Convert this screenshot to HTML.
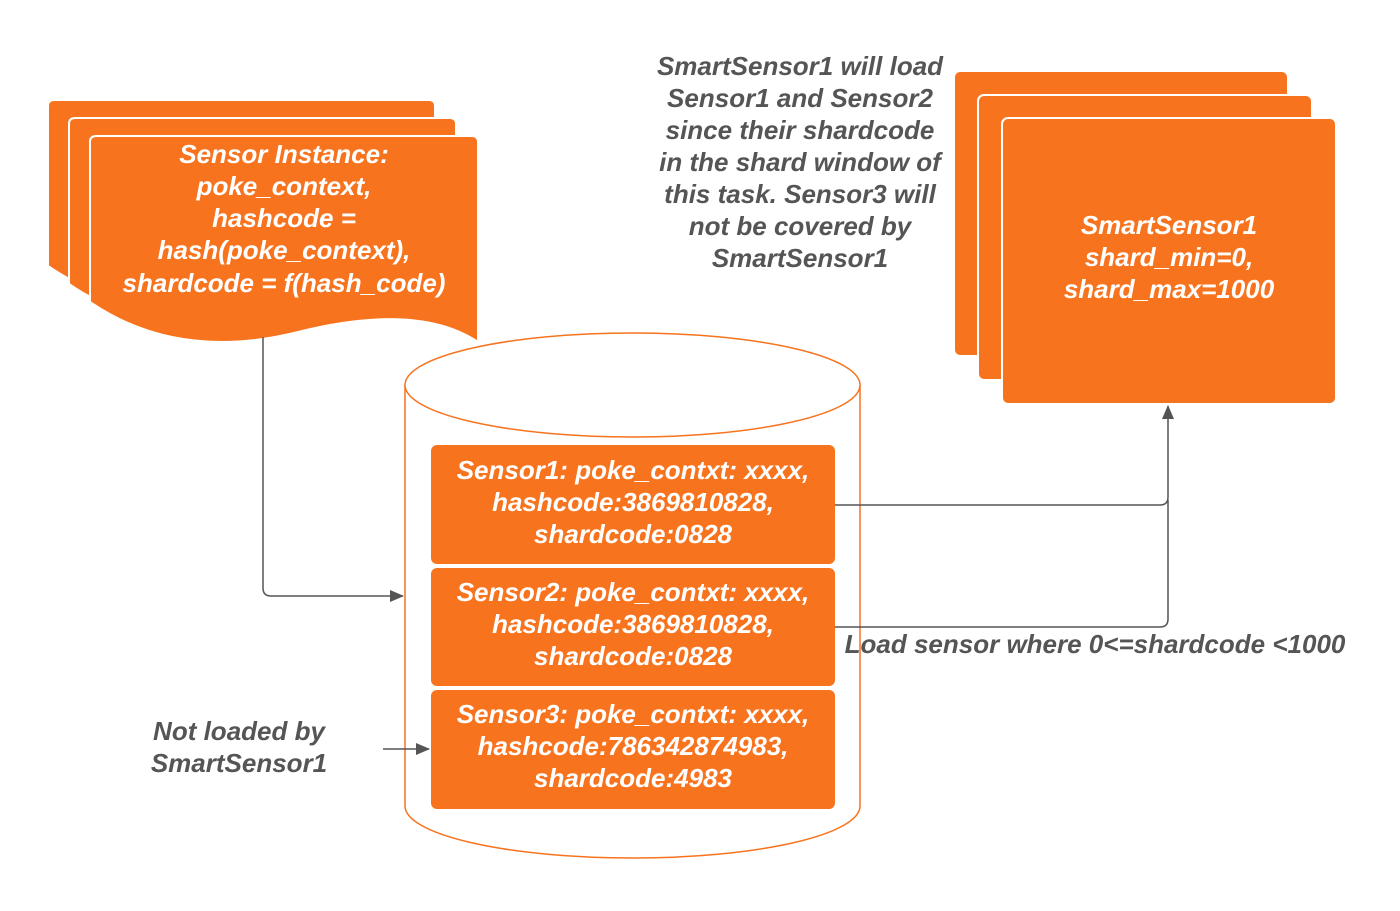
<!DOCTYPE html>
<html><head><style>
body{margin:0;background:#fff;width:1400px;height:906px;overflow:hidden}
svg text{font-family:"Liberation Sans",Arial,sans-serif;font-weight:bold;font-style:italic;font-size:26px;text-anchor:middle}
.w{fill:#fff}.g{fill:#555}
</style></head><body>
<svg width="1400" height="906" viewBox="0 0 1400 906" xmlns="http://www.w3.org/2000/svg" font-family="Liberation Sans, Arial, sans-serif">
<defs><marker id="a" markerWidth="14" markerHeight="12" refX="13" refY="6" orient="auto" markerUnits="userSpaceOnUse"><path d="M0,0 L14,6 L0,12z" fill="#555"/></marker></defs>
<g fill="#F7731E" stroke="#fff" stroke-width="2">
<path d="M48,106 q0,-6 6,-6 h375 q6,0 6,6 v200 q-60,-40 -180,-10 q-120,30 -207,-30z"/>
<path d="M69,124 q0,-6 6,-6 h375 q6,0 6,6 v200 q-60,-40 -180,-10 q-120,30 -207,-30z"/>
<path d="M90,142 q0,-6 6,-6 h376 q6,0 6,6 v200 q-60,-40 -180,-10 q-120,30 -208,-30z"/>
</g>
<text class="w" x="284" y="163">Sensor Instance:</text>
<text class="w" x="284" y="195">poke_context,</text>
<text class="w" x="284" y="227">hashcode =</text>
<text class="w" x="284" y="259">hash(poke_context),</text>
<text class="w" x="284" y="292">shardcode =  f(hash_code)</text>
<g fill="#F7731E" stroke="#fff" stroke-width="2">
<rect x="954" y="71" width="334" height="285" rx="6"/>
<rect x="978" y="95" width="334" height="285" rx="6"/>
<rect x="1002" y="118" width="334" height="286" rx="6"/>
</g>
<text class="w" x="1169" y="234">SmartSensor1</text>
<text class="w" x="1169" y="266">shard_min=0,</text>
<text class="w" x="1169" y="298">shard_max=1000</text>
<g class="g">
<text x="800" y="75">SmartSensor1 will load</text>
<text x="800" y="107">Sensor1 and Sensor2</text>
<text x="800" y="139">since their shardcode</text>
<text x="800" y="171">in the shard window of</text>
<text x="800" y="203">this task. Sensor3 will</text>
<text x="800" y="235">not be covered by</text>
<text x="800" y="267">SmartSensor1</text>
</g>
<path d="M405,385 V806 A227.5,52 0 0 0 860,806 V385" fill="#fff" stroke="#F7731E" stroke-width="1.5"/>
<ellipse cx="632.5" cy="385" rx="227.5" ry="52" fill="#fff" stroke="#F7731E" stroke-width="1.5"/>
<g fill="#F7731E">
<rect x="431" y="445" width="404" height="119" rx="6"/>
<rect x="431" y="568" width="404" height="118" rx="6"/>
<rect x="431" y="690" width="404" height="119" rx="6"/>
</g>
<g class="w">
<text x="633" y="479">Sensor1: poke_contxt: xxxx,</text>
<text x="633" y="511">hashcode:3869810828,</text>
<text x="633" y="543">shardcode:0828</text>
<text x="633" y="601">Sensor2: poke_contxt: xxxx,</text>
<text x="633" y="633">hashcode:3869810828,</text>
<text x="633" y="665">shardcode:0828</text>
<text x="633" y="723">Sensor3: poke_contxt: xxxx,</text>
<text x="633" y="755">hashcode:786342874983,</text>
<text x="633" y="787">shardcode:4983</text>
</g>
<g fill="none" stroke="#555" stroke-width="1.5">
<path d="M263,337 V588 q0,8 8,8 H403" marker-end="url(#a)"/>
<path d="M835,505 H1160 q8,0 8,-8 V406" marker-end="url(#a)"/>
<path d="M835,627 H1160 q8,0 8,-8 V500"/>
<path d="M383,749 H429" marker-end="url(#a)"/>
</g>
<text class="g" x="1095" y="653">Load sensor where 0&lt;=shardcode &lt;1000</text>
<text class="g" x="239" y="740">Not loaded by</text>
<text class="g" x="239" y="772">SmartSensor1</text>
</svg>
</body></html>
